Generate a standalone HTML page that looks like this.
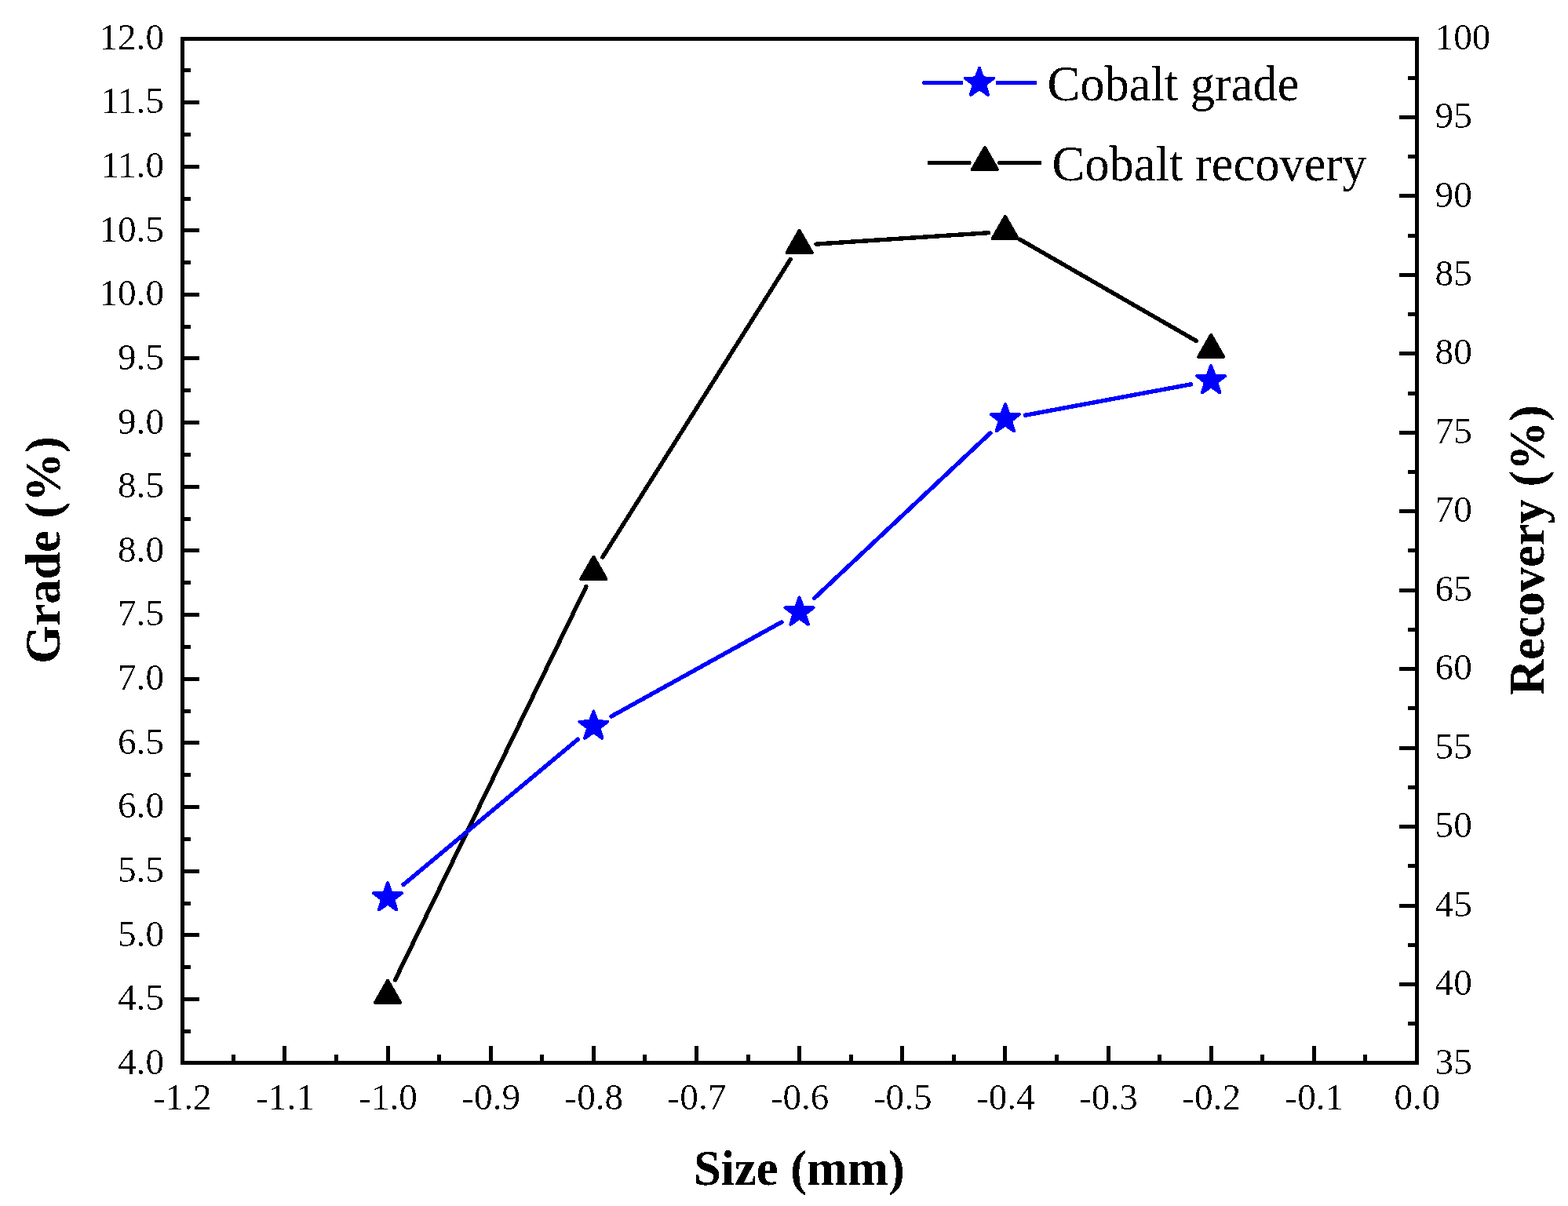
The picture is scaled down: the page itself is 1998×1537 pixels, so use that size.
<!DOCTYPE html>
<html lang="en"><head><meta charset="utf-8"><title>Cobalt grade and recovery vs size</title>
<style>
html,body{margin:0;padding:0;background:#fff;}
body{width:1998px;height:1537px;overflow:hidden;}
svg{display:block;}
text{font-family:"Liberation Serif", "Times New Roman", Times, serif;fill:#000;}
.tk{font-size:47.2px;}
.lg{font-size:62.5px;}
.ti{font-size:62.5px;font-weight:bold;}
.ax{fill:#000;shape-rendering:crispEdges;}
.bl{stroke:#0000ff;stroke-width:5.4;stroke-linecap:round;fill:none;shape-rendering:crispEdges;}
.bk{stroke:#000;stroke-width:5.4;stroke-linecap:round;fill:none;shape-rendering:crispEdges;}
.st{fill:#0000ff;stroke:#0000ff;stroke-width:4;stroke-linejoin:round;shape-rendering:crispEdges;}
.tr{fill:#000;stroke:#000;stroke-width:4;stroke-linejoin:round;shape-rendering:crispEdges;}
</style></head><body>
<svg width="1998" height="1537" viewBox="0 0 1998 1537">
<rect x="0" y="0" width="1998" height="1537" fill="#fff"/>
<defs><filter id="ftk" x="-5%" y="-5%" width="110%" height="110%" color-interpolation-filters="sRGB"><feComponentTransfer><feFuncA type="discrete" tableValues="0 0 0 0 0 0 0 0 0 0 0 0 1 1 1 1 1 1 1 1"/></feComponentTransfer></filter><filter id="flg" x="-5%" y="-5%" width="110%" height="110%" color-interpolation-filters="sRGB"><feComponentTransfer><feFuncA type="discrete" tableValues="0 0 0 0 0 0 0 0 0 1 1 1 1 1 1 1 1 1 1 1"/></feComponentTransfer></filter><filter id="fti" x="-5%" y="-5%" width="110%" height="110%" color-interpolation-filters="sRGB"><feComponentTransfer><feFuncA type="discrete" tableValues="0 0 0 0 0 0 0 0 0 1 1 1 1 1 1 1 1 1 1 1"/></feComponentTransfer></filter></defs>
<g class="ax">
<rect x="230" y="47" width="1578" height="5"/>
<rect x="230" y="1352" width="1578" height="5"/>
<rect x="230" y="47" width="5" height="1310"/>
<rect x="1803" y="47" width="5" height="1310"/>
<rect x="235" y="87" width="8" height="5"/>
<rect x="235" y="128" width="19" height="5"/>
<rect x="235" y="169" width="8" height="5"/>
<rect x="235" y="210" width="19" height="5"/>
<rect x="235" y="251" width="8" height="5"/>
<rect x="235" y="291" width="19" height="5"/>
<rect x="235" y="332" width="8" height="5"/>
<rect x="235" y="373" width="19" height="5"/>
<rect x="235" y="414" width="8" height="5"/>
<rect x="235" y="454" width="19" height="5"/>
<rect x="235" y="495" width="8" height="5"/>
<rect x="235" y="536" width="19" height="5"/>
<rect x="235" y="577" width="8" height="5"/>
<rect x="235" y="618" width="19" height="5"/>
<rect x="235" y="659" width="8" height="5"/>
<rect x="235" y="699" width="19" height="5"/>
<rect x="235" y="740" width="8" height="5"/>
<rect x="235" y="781" width="19" height="5"/>
<rect x="235" y="822" width="8" height="5"/>
<rect x="235" y="863" width="19" height="5"/>
<rect x="235" y="904" width="8" height="5"/>
<rect x="235" y="944" width="19" height="5"/>
<rect x="235" y="985" width="8" height="5"/>
<rect x="235" y="1026" width="19" height="5"/>
<rect x="235" y="1067" width="8" height="5"/>
<rect x="235" y="1108" width="19" height="5"/>
<rect x="235" y="1149" width="8" height="5"/>
<rect x="235" y="1189" width="19" height="5"/>
<rect x="235" y="1230" width="8" height="5"/>
<rect x="235" y="1271" width="19" height="5"/>
<rect x="235" y="1312" width="8" height="5"/>
<rect x="1794" y="97" width="9" height="5"/>
<rect x="1783" y="147" width="20" height="5"/>
<rect x="1794" y="197" width="9" height="5"/>
<rect x="1783" y="247" width="20" height="5"/>
<rect x="1794" y="298" width="9" height="5"/>
<rect x="1783" y="348" width="20" height="5"/>
<rect x="1794" y="398" width="9" height="5"/>
<rect x="1783" y="448" width="20" height="5"/>
<rect x="1794" y="499" width="9" height="5"/>
<rect x="1783" y="549" width="20" height="5"/>
<rect x="1794" y="599" width="9" height="5"/>
<rect x="1783" y="649" width="20" height="5"/>
<rect x="1794" y="699" width="9" height="5"/>
<rect x="1783" y="750" width="20" height="5"/>
<rect x="1794" y="800" width="9" height="5"/>
<rect x="1783" y="850" width="20" height="5"/>
<rect x="1794" y="900" width="9" height="5"/>
<rect x="1783" y="951" width="20" height="5"/>
<rect x="1794" y="1001" width="9" height="5"/>
<rect x="1783" y="1051" width="20" height="5"/>
<rect x="1794" y="1101" width="9" height="5"/>
<rect x="1783" y="1152" width="20" height="5"/>
<rect x="1794" y="1202" width="9" height="5"/>
<rect x="1783" y="1252" width="20" height="5"/>
<rect x="1794" y="1302" width="9" height="5"/>
<rect x="295" y="1344" width="5" height="8"/>
<rect x="360" y="1333" width="5" height="19"/>
<rect x="426" y="1344" width="5" height="8"/>
<rect x="492" y="1333" width="5" height="19"/>
<rect x="557" y="1344" width="5" height="8"/>
<rect x="623" y="1333" width="5" height="19"/>
<rect x="688" y="1344" width="5" height="8"/>
<rect x="754" y="1333" width="5" height="19"/>
<rect x="819" y="1344" width="5" height="8"/>
<rect x="885" y="1333" width="5" height="19"/>
<rect x="951" y="1344" width="5" height="8"/>
<rect x="1016" y="1333" width="5" height="19"/>
<rect x="1082" y="1344" width="5" height="8"/>
<rect x="1147" y="1333" width="5" height="19"/>
<rect x="1213" y="1344" width="5" height="8"/>
<rect x="1278" y="1333" width="5" height="19"/>
<rect x="1344" y="1344" width="5" height="8"/>
<rect x="1410" y="1333" width="5" height="19"/>
<rect x="1475" y="1344" width="5" height="8"/>
<rect x="1541" y="1333" width="5" height="19"/>
<rect x="1606" y="1344" width="5" height="8"/>
<rect x="1672" y="1333" width="5" height="19"/>
<rect x="1737" y="1344" width="5" height="8"/>
</g>
<g class="tk" filter="url(#ftk)">
<text x="209" y="1368.84" text-anchor="end">4.0</text>
<text x="209" y="1287.21" text-anchor="end">4.5</text>
<text x="209" y="1205.58" text-anchor="end">5.0</text>
<text x="209" y="1123.96" text-anchor="end">5.5</text>
<text x="209" y="1042.33" text-anchor="end">6.0</text>
<text x="209" y="960.702" text-anchor="end">6.5</text>
<text x="209" y="879.075" text-anchor="end">7.0</text>
<text x="209" y="797.448" text-anchor="end">7.5</text>
<text x="209" y="715.82" text-anchor="end">8.0</text>
<text x="209" y="634.192" text-anchor="end">8.5</text>
<text x="209" y="552.565" text-anchor="end">9.0</text>
<text x="209" y="470.938" text-anchor="end">9.5</text>
<text x="209" y="389.31" text-anchor="end">10.0</text>
<text x="209" y="307.683" text-anchor="end">10.5</text>
<text x="209" y="226.055" text-anchor="end">11.0</text>
<text x="209" y="144.427" text-anchor="end">11.5</text>
<text x="209" y="62.8" text-anchor="end">12.0</text>
<text x="1828.6" y="1368.64">35</text>
<text x="1828.6" y="1268.18">40</text>
<text x="1828.6" y="1167.71">45</text>
<text x="1828.6" y="1067.25">50</text>
<text x="1828.6" y="966.782">55</text>
<text x="1828.6" y="866.317">60</text>
<text x="1828.6" y="765.852">65</text>
<text x="1828.6" y="665.388">70</text>
<text x="1828.6" y="564.923">75</text>
<text x="1828.6" y="464.458">80</text>
<text x="1828.6" y="363.994">85</text>
<text x="1828.6" y="263.529">90</text>
<text x="1828.6" y="163.065">95</text>
<text x="1828.6" y="62.6">100</text>
<text x="232.3" y="1414" text-anchor="middle">-1.2</text>
<text x="363.435" y="1414" text-anchor="middle">-1.1</text>
<text x="494.57" y="1414" text-anchor="middle">-1.0</text>
<text x="625.705" y="1414" text-anchor="middle">-0.9</text>
<text x="756.84" y="1414" text-anchor="middle">-0.8</text>
<text x="887.975" y="1414" text-anchor="middle">-0.7</text>
<text x="1019.11" y="1414" text-anchor="middle">-0.6</text>
<text x="1150.25" y="1414" text-anchor="middle">-0.5</text>
<text x="1281.38" y="1414" text-anchor="middle">-0.4</text>
<text x="1412.51" y="1414" text-anchor="middle">-0.3</text>
<text x="1543.65" y="1414" text-anchor="middle">-0.2</text>
<text x="1674.79" y="1414" text-anchor="middle">-0.1</text>
<text x="1805.92" y="1414" text-anchor="middle">0.0</text>
</g>
<g class="ti" filter="url(#fti)">
<text transform="translate(76.4,701.2) rotate(-90)" text-anchor="middle">Grade (%)</text>
<text transform="translate(1967.1,701.2) rotate(-90)" text-anchor="middle">Recovery (%)</text>
<text x="1018.4" y="1509.5" text-anchor="middle">Size (mm)</text>
</g>
<line class="bk" x1="503.46" y1="1248.96" x2="746.95" y2="747.64"/>
<line class="bk" x1="767.81" y1="710.11" x2="1007.14" y2="330.59"/>
<line class="bk" x1="1040.06" y1="311.09" x2="1259.43" y2="296.71"/>
<line class="bk" x1="1299.52" y1="305.12" x2="1524.51" y2="434.58"/>
<line class="bl" x1="514.04" y1="1127.42" x2="736.37" y2="942.15"/>
<line class="bl" x1="779.09" y1="912.91" x2="995.86" y2="792.89"/>
<line class="bl" x1="1037.56" y1="762.50" x2="1261.93" y2="551.80"/>
<line class="bl" x1="1306.44" y1="529.23" x2="1517.59" y2="489.77"/>
<polygon class="tr" points="494.07,1249.70 510.17,1277.90 477.97,1277.90"/>
<polygon class="tr" points="756.34,709.70 772.44,737.90 740.24,737.90"/>
<polygon class="tr" points="1018.61,293.80 1034.71,322.00 1002.51,322.00"/>
<polygon class="tr" points="1280.88,275.80 1296.98,304.00 1264.78,304.00"/>
<polygon class="tr" points="1543.15,426.70 1559.25,454.90 1527.05,454.90"/>
<polygon class="st" points="494.07,1125.07 498.54,1137.92 512.14,1138.20 501.30,1146.42 505.24,1159.44 494.07,1151.67 482.90,1159.44 486.84,1146.42 476.00,1138.20 489.60,1137.92"/>
<polygon class="st" points="756.34,906.50 760.81,919.35 774.41,919.63 763.57,927.85 767.51,940.87 756.34,933.10 745.17,940.87 749.11,927.85 738.27,919.63 751.87,919.35"/>
<polygon class="st" points="1018.61,761.30 1023.08,774.15 1036.68,774.43 1025.84,782.65 1029.78,795.67 1018.61,787.90 1007.44,795.67 1011.38,782.65 1000.54,774.43 1014.14,774.15"/>
<polygon class="st" points="1280.88,515.00 1285.35,527.85 1298.95,528.13 1288.11,536.35 1292.05,549.37 1280.88,541.60 1269.71,549.37 1273.65,536.35 1262.81,528.13 1276.41,527.85"/>
<polygon class="st" points="1543.15,466.00 1547.62,478.85 1561.22,479.13 1550.38,487.35 1554.32,500.37 1543.15,492.60 1531.98,500.37 1535.92,487.35 1525.08,479.13 1538.68,478.85"/>
<line class="bl" x1="1177.8" y1="105.5" x2="1224.7" y2="105.5"/>
<line class="bl" x1="1271.5" y1="105.5" x2="1318.5" y2="105.5"/>
<polygon class="st" points="1248.00,86.60 1252.47,99.45 1266.07,99.73 1255.23,107.95 1259.17,120.97 1248.00,113.20 1236.83,120.97 1240.77,107.95 1229.93,99.73 1243.53,99.45"/>
<line class="bk" x1="1184.5" y1="207.5" x2="1235" y2="207.5"/>
<line class="bk" x1="1274" y1="207.5" x2="1324.5" y2="207.5"/>
<polygon class="tr" points="1255.00,187.90 1271.10,216.10 1238.90,216.10"/>
<g class="lg" filter="url(#flg)">
<text x="1334.5" y="127.6">Cobalt grade</text>
<text x="1340.6" y="229.6">Cobalt recovery</text>
</g>
</svg>
</body></html>
